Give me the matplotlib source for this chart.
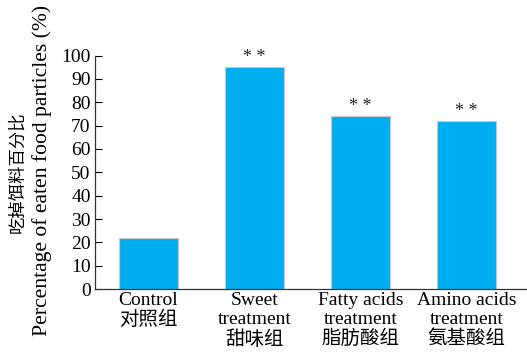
import matplotlib
matplotlib.use("Agg")
import matplotlib.pyplot as plt

plt.rcParams['font.family'] = ['Liberation Serif', 'Noto Sans CJK SC']
plt.rcParams['font.size'] = 14

groups = ['Control\n对照组', 'Sweet\ntreatment\n甜味组',
          'Fatty acids\ntreatment\n脂肪酸组', 'Amino acids\ntreatment\n氨基酸组']
eaten_pct = [22, 95, 74, 72]
signif = ['', '* *', '* *', '* *']

fig = plt.figure(figsize=(5.27, 3.56), dpi=100)
ax = fig.add_axes([0.180, 0.188, 0.820, 0.656])

x = range(len(groups))
bars = ax.bar(x, eaten_pct, width=0.557, color='#00aeef',
              edgecolor='#c8c8c8', linewidth=0.8)

for xi, v, s in zip(x, eaten_pct, signif):
    if s:
        ax.annotate(s, (xi, v), xytext=(0, 7), textcoords='offset points',
                    ha='center', va='center', fontsize=13, color='#222222')

ax.set_xlim(-0.505, 3.57)
ax.set_ylim(0, 100)
ax.set_yticks(range(0, 101, 10))
ax.set_xticks(list(x))
ax.set_xticklabels(groups, linespacing=1.15)
ax.tick_params(axis='x', length=0, pad=2)
ax.tick_params(axis='y', direction='in', length=5, width=0.8, pad=3)

for side in ['top', 'right']:
    ax.spines[side].set_visible(False)
for side in ['left', 'bottom']:
    ax.spines[side].set_linewidth(0.9)
    ax.spines[side].set_color('#333333')

# two-line y label: Chinese above, English below
fig.text(18 / 527, 0.515, '吃掉饵料百分比', rotation=90,
         ha='center', va='center', fontsize=12.5)
fig.text(42 / 527, 0.521, 'Percentage of eaten food particles (%)',
         rotation=90, ha='center', va='center', fontsize=15.6)

fig.savefig('out.png', dpi=100)
